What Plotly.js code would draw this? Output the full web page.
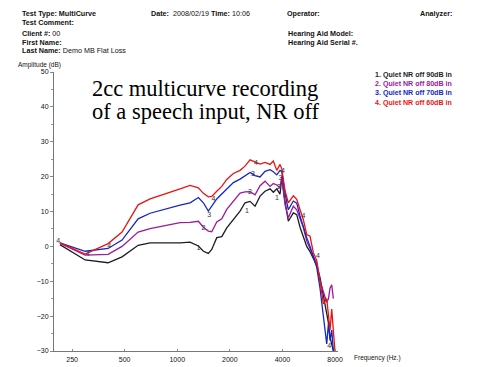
<!DOCTYPE html>
<html><head><meta charset="utf-8">
<script src="https://cdn.plot.ly/plotly-3.0.1.min.js"></script>
<style>html,body{margin:0;padding:0;background:#fff}#chart{width:492px;height:367px}</style>
</head><body><div id="chart"></div>
<script>
// Frequency grid (Hz)
const freq = [213, 297, 402, 483, 597, 699, 1038, 1184, 1321, 1411, 1506, 1576, 1683, 1798, 1920, 2095, 2288, 2443, 2610, 2788, 2978, 3180, 3397, 3548, 3712, 3875, 3963, 4138, 4323, 4617, 4830, 5045, 5268, 5510, 5755, 6012, 6287, 6565, 6860, 7170, 7340, 7490, 7660, 7825, 7990];
// Output amplitude (dB) per input level
const quiet90 = [0.5, -3.9, -4.7, -3.0, 0.3, 1.0, 1.0, 1.2, 0.1, -1.4, -2.0, -0.9, 2.5, 2.8, 5.3, 7.7, 10.1, 12.5, 12.9, 11.5, 14.4, 15.8, 16.5, 15.5, 16.5, 15.0, 19.5, 13.0, 7.2, 9.6, 9.1, 5.5, 3.0, 0.0, -1.5, -3.5, -5.5, -9, -14, -19, -22, -26, -28, -30, null];
const quiet80 = [0.9, -2.5, -2.3, 0.0, 4.1, 5.1, 6.8, 6.9, 7.2, 5.5, 4.4, 4.2, 7.0, 7.9, 10.6, 13.0, 15.3, 15.6, 15.7, 14.8, 17.4, 18.7, 17.2, 18.0, 17.6, 16.8, 20.0, 12.0, 8.2, 11.5, 10.5, 8.0, 5.4, 1.5, -0.5, -3.0, -5.0, -10, -13, -16, -15, -12, -11, -15, null];
const quiet70 = [1.0, -1.4, -0.6, 1.8, 7.9, 9.5, 11.8, 12.5, 14.0, 12.5, 10.1, 11.5, 13.6, 15.0, 16.4, 18.3, 19.3, 20.3, 21.2, 20.3, 19.9, 21.5, 22.0, 21.4, 20.5, 21.8, 21.5, 15.3, 10.5, 13.0, 12.4, 8.7, 5.5, 2.5, 0.0, -3.0, -6.0, -12, -20, -28, -22, -27, -24, -30, null];
const quiet60 = [1.0, -2.2, 0.8, 4.1, 11.9, 13.6, 16.5, 17.5, 16.8, 15.2, 14.2, 14.3, 15.8, 17.2, 19.2, 20.9, 21.8, 23.0, 24.8, 24.1, 23.6, 24.1, 23.5, 24.5, 21.8, 23.5, 22.3, 16.0, 12.5, 14.5, 13.5, 10.5, 7.7, 3.4, 2.9, -1.8, -4.0, -10, -16.5, -15, -19, -24, -18, -25, -30];
const seriesNames = ["1. Quiet NR off 90dB in", "2. Quiet NR off 80dB in", "3. Quiet NR off 70dB in", "4. Quiet NR off 60dB in"];
// Curve number labels on the curves
const label1Freq = [1321, 2509, 3725], label1dB = [-0.4, 10.1, 13.7];
const label2Freq = [1411, 2610, 3825], label2dB = [5.1, 15.5, 17.0];
const label3Freq = [1526, 2715, 3900], label3dB = [8.8, 20.6, 19.4];
const label4Freq = [208, 307, 408, 1609, 2825, 4032, 5268, 6395, 7420], label4dB = [1.4, -2.3, -0.1, 13.4, 23.9, 21.4, 8.6, -2.8, -28.6];
const xTicks = [250, 500, 1000, 2000, 4000, 8000];
const yTicks = [50, 40, 30, 20, 10, 0, -10, -20, -30];

const colors = ["#1c1c28", "#9a1a9a", "#1426c4", "#e81414"];
const values = [quiet90, quiet80, quiet70, quiet60];

const traces = values.map((v, i) => ({
  x: freq, y: v, type: 'scatter', mode: 'lines', name: seriesNames[i],
  line: {color: colors[i], width: 1.3}, connectgaps: false, hoverinfo: 'skip'
}));
[[label1Freq, label1dB, '1'], [label2Freq, label2dB, '2'], [label3Freq, label3dB, '3'], [label4Freq, label4dB, '4']].forEach(l => {
  traces.push({x: l[0], y: l[1], type: 'scatter', mode: 'text', text: l[0].map(() => l[2]),
    textfont: {family: 'Liberation Sans, Arial, sans-serif', size: 7, color: '#333'},
    textposition: 'middle center', hoverinfo: 'skip', showlegend: false, cliponaxis: false});
});

// plot area in pixels: left 54, right 338, top 72, bottom 351
const L = 54, R = 338, T = 72, B = 351;
const px = x => (x - L) / (R - L);
const py = y => (B - y) / (B - T);
const sans = 'Liberation Sans, Arial, sans-serif';
function ann(text, x, y, opts) {
  return Object.assign({text: text, xref: 'paper', yref: 'paper', x: px(x), y: py(y),
    xanchor: 'left', yanchor: 'middle', showarrow: false, borderpad: 0,
    font: {family: sans, size: 7.2, color: '#111'}}, opts || {});
}
const annotations = [
  ann('<b>Test Type: MultiCurve</b>', 21, 13.3),
  ann('<b>Test Comment:</b>', 21, 22.7),
  ann('<b>Client #:</b> 00', 21, 33.3),
  ann('<b>First Name:</b>', 21, 42.3),
  ann('<b>Last Name:</b> Demo MB Flat Loss', 21, 50.5),
  ann('<b>Date:</b>\u00a0 2008/02/19 <b>Time:</b> 10:06', 150, 13.3),
  ann('<b>Operator:</b>', 286, 13.3),
  ann('<b>Analyzer:</b>', 453, 13.3, {xanchor: 'right'}),
  ann('<b>Hearing Aid Model:</b>', 287, 33.3),
  ann('<b>Hearing Aid Serial #.</b>', 287, 42.3),
  ann('Amplitude (dB)', 17, 65, {font: {family: sans, size: 6.5, color: '#111'}}),
  ann('Frequency (Hz.)', 353, 357.5, {font: {family: sans, size: 6.5, color: '#111'}}),
  ann('2cc multicurve recording', 91, 88, {font: {family: 'Liberation Serif, Times New Roman, serif', size: 22.5, color: '#000'}}),
  ann('of a speech input, NR off', 91, 111, {font: {family: 'Liberation Serif, Times New Roman, serif', size: 22.5, color: '#000'}})
];
const legendY = [74.7, 84, 93.3, 102.7];
seriesNames.forEach((n, i) => annotations.push(ann('<b>' + n + '</b>', 374, legendY[i], {font: {family: sans, size: 7.1, color: colors[i]}})));

const layout = {
  width: 492, height: 367,
  margin: {l: L, r: 492 - R, t: T, b: 367 - B, pad: 0},
  paper_bgcolor: '#fff', plot_bgcolor: '#fff', showlegend: false,
  xaxis: {type: 'log', range: [Math.log10(197), Math.log10(8320)], tickvals: xTicks, ticktext: xTicks.map(String),
    showgrid: false, zeroline: false, showline: true, linecolor: '#777', linewidth: 1,
    ticks: 'inside', ticklen: 2, tickcolor: '#888', ticklabelstandoff: 2, tickfont: {family: sans, size: 7, color: '#111'}},
  yaxis: {range: [-30, 50], tickvals: yTicks, showgrid: false, zeroline: false, showline: true, linecolor: '#777', linewidth: 1,
    ticks: 'outside', ticklen: 3, tickcolor: '#888', tickfont: {family: sans, size: 7, color: '#111'},
    minor: {dtick: 5, ticks: 'outside', ticklen: 2, tickcolor: '#999', showgrid: false}},
  annotations: annotations
};
Plotly.newPlot('chart', traces, layout, {staticPlot: true, displayModeBar: false});
</script>
</body></html>
